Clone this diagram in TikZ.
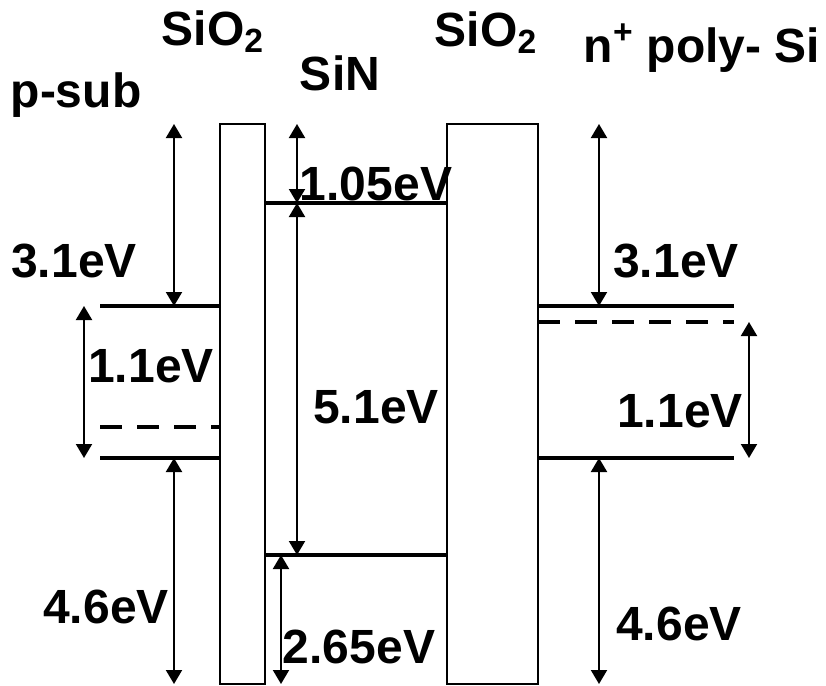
\documentclass[tikz,border=0pt]{standalone}
\usepackage{fontspec}
\setmainfont{Liberation Sans}
\usetikzlibrary{arrows.meta}

\begin{document}
\begin{tikzpicture}[x=0.5pt,y=-0.5pt,>={Triangle[length=7pt,width=8pt]},
    band/.style={line width=2pt},
    fermi/.style={line width=2pt,dash pattern=on 11pt off 7.5pt},
    barrier/.style={line width=1pt},
    gap/.style={<->,line width=1pt},
    lbl/.style={font=\fontsize{24}{28}\selectfont\bfseries,anchor=base,inner sep=0pt}]

        \useasboundingbox (0,0) rectangle (826,686);

        % Oxide layers
        \draw[barrier] (220,124) rectangle (265,684);
        \draw[barrier] (447,124) rectangle (538,684);

        % Levels, p-sub side
        \coordinate (pTop) at (174,124);
        \coordinate (pCB) at (174,306);
        \coordinate (pVB) at (174,458);
        \coordinate (pBot) at (174,684);
        \coordinate (pGapT) at (84,306);
        \coordinate (pGapB) at (84,458);
        \draw[band] (100,306) -- (220,306);
        \draw[fermi] (100,427) -- (220,427);
        \draw[band] (100,458) -- (220,458);

        % Levels, SiN
        \coordinate (nTop) at (297,124);
        \coordinate (nCB) at (297,203);
        \coordinate (nVB) at (297,555);
        \coordinate (nVBb) at (281,555);
        \coordinate (nBot) at (281,684);
        \draw[band] (265,203) -- (447,203);
        \draw[band] (265,555) -- (447,555);

        % Levels, gate side
        \coordinate (gTop) at (599,124);
        \coordinate (gCB) at (599,306);
        \coordinate (gVB) at (599,458);
        \coordinate (gBot) at (599,684);
        \coordinate (gGapT) at (749,322);
        \coordinate (gGapB) at (749,458);
        \draw[band] (538,306) -- (734,306);
        \draw[fermi] (538,322) -- (734,322);
        \draw[band] (538,458) -- (734,458);

        % Energy gaps
        \draw[gap] (pTop) -- (pCB);
        \draw[gap] (pGapT) -- (pGapB);
        \draw[gap] (pVB) -- (pBot);
        \draw[gap] (nTop) -- (nCB);
        \draw[gap] (nCB) -- (nVB);
        \draw[gap] (nVBb) -- (nBot);
        \draw[gap] (gTop) -- (gCB);
        \draw[gap] (gGapT) -- (gGapB);
        \draw[gap] (gVB) -- (gBot);

        % Labels
        \node[lbl] (ox1) at (213,45) {SiO\textsubscript{2}};
        \node[lbl] (sin) at (340,90) {SiN};
        \node[lbl] (ox2) at (486,46) {SiO\textsubscript{2}};
        \node[lbl] (gate) at (702,62) {n\textsuperscript{+} poly- Si};
        \node[lbl] (psub) at (76,107) {p-sub};
        \node[lbl] (lp31) at (74,277) {3.1eV};
        \node[lbl] (lp11) at (151,382) {1.1eV};
        \node[lbl] (lp46) at (106,623) {4.6eV};
        \node[lbl] (ln105) at (376,200) {1.05eV};
        \node[lbl] (ln51) at (376,423) {5.1eV};
        \node[lbl] (ln265) at (359,663) {2.65eV};
        \node[lbl] (lg31) at (676,277) {3.1eV};
        \node[lbl] (lg11) at (680,427) {1.1eV};
        \node[lbl] (lg46) at (679,640) {4.6eV};

    \end{tikzpicture}
\end{document}
